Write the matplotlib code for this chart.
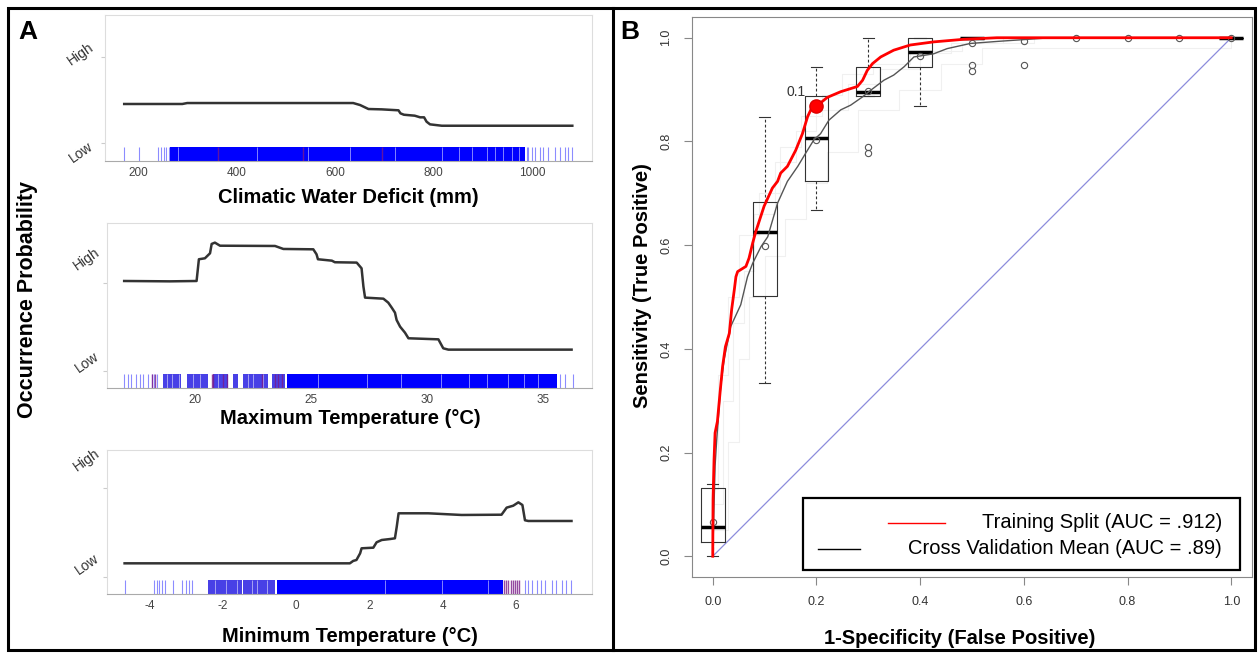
import matplotlib
matplotlib.use("Agg")
import matplotlib.pyplot as plt
from matplotlib.patches import Rectangle
from matplotlib.lines import Line2D

plt.rcParams['font.family'] = ['Liberation Sans', 'DejaVu Sans']
plt.rcParams['axes.unicode_minus'] = False

# ---- panel A : partial dependence curves (0 = Low, 1 = High) ----
cwd_x = [172, 290, 300, 637, 651, 668, 695, 729, 733, 740, 762, 773, 781, 786, 793, 817, 1082]
cwd_y = [0.454, 0.454, 0.465, 0.465, 0.442, 0.396, 0.392, 0.381, 0.346, 0.330, 0.319, 0.300,
         0.300, 0.250, 0.219, 0.203, 0.203]
cwd_ticks = [200, 400, 600, 800, 1000]
cwd_rug_sparse = [172, 203, 241, 246, 252, 256, 262, 990, 993, 1000, 1006, 1017, 1023, 1033,
                  1047, 1057, 1067, 1074, 1082]
cwd_rug_medium = []
cwd_rug_dense = [(265, 986)]
cwd_rug_gaps = [282, 441, 546, 630, 722, 817, 851, 878, 908, 925, 942, 959, 973]
cwd_rug_accent = [363, 536, 695]

tmax_x = [16.95, 18.92, 20.07, 20.17, 20.43, 20.65, 20.72, 20.86, 21.08, 23.45, 23.81, 25.1,
          25.24, 25.3, 25.9, 26.03, 26.97, 27.18, 27.26, 27.33, 28.12, 28.33, 28.48, 28.62,
          28.69, 28.84, 29.05, 29.2, 30.49, 30.7, 30.92, 36.23]
tmax_y = [1.019, 1.015, 1.019, 1.266, 1.277, 1.334, 1.44, 1.455, 1.42, 1.417, 1.383, 1.379,
          1.322, 1.266, 1.25, 1.232, 1.228, 1.163, 0.955, 0.83, 0.818, 0.773, 0.716, 0.659,
          0.576, 0.5, 0.432, 0.368, 0.356, 0.254, 0.239, 0.239]
tmax_ticks = [20, 25, 30, 35]
tmax_rug_sparse = [16.95, 17.12, 17.24, 17.45, 17.63, 17.77, 17.99, 18.13, 18.25, 18.35,
                   35.73, 35.95, 36.31]
tmax_rug_medium = [(18.63, 19.42), (19.64, 20.57), (20.79, 21.44), (21.65, 21.87),
                   (22.08, 23.16), (23.3, 23.88)]
tmax_rug_dense = [(23.95, 35.59)]
tmax_rug_gaps = [18.8, 19.0, 19.3, 19.9, 20.2, 21.0, 21.5, 22.3, 22.5, 22.95, 25.3, 27.4,
                 28.9, 30.6, 31.8, 32.6, 33.5, 34.2, 34.8]
tmax_rug_accent = [18.13, 18.27, 20.72, 20.79, 21.22, 21.36, 22.87, 23.45, 23.6, 23.74]

tmin_x = [-4.68, 1.47, 1.56, 1.65, 1.75, 1.79, 2.11, 2.2, 2.34, 2.57, 2.7, 2.75, 2.8, 3.61,
          4.52, 5.61, 5.75, 5.93, 6.07, 6.18, 6.25, 6.34, 7.52]
tmin_y = [0.151, 0.151, 0.178, 0.189, 0.264, 0.321, 0.328, 0.389, 0.415, 0.426, 0.434, 0.566,
          0.717, 0.717, 0.698, 0.701, 0.781, 0.803, 0.841, 0.811, 0.638, 0.630, 0.630]
tmin_ticks = [-4, -2, 0, 2, 4, 6]
tmin_rug_sparse = [-4.68, -3.87, -3.80, -3.74, -3.67, -3.57, -3.37, -3.10, -3.01, -2.92, -2.85,
                   6.25, 6.34, 6.43, 6.57, 6.70, 6.81, 6.98, 7.11, 7.25, 7.38, 7.52]
tmin_rug_medium = [(-2.41, -1.48), (-1.44, -0.57)]
tmin_rug_dense = [(-0.53, 5.66)]
tmin_rug_gaps = [-2.2, -1.9, -1.6, -1.21, -1.07, -0.8, 2.43, 3.98, 5.25]
tmin_rug_accent = [5.68, 5.74, 5.79, 5.86, 5.92, 5.97, 6.03, 6.08]

# ---- panel B : ROC ----
train_fpr = [0, 0.0006, 0.0025, 0.0045, 0.009, 0.0146, 0.019, 0.0244, 0.032, 0.0365, 0.0416,
             0.0447, 0.048, 0.064, 0.070, 0.077, 0.083, 0.099, 0.115, 0.125, 0.131, 0.144,
             0.16, 0.173, 0.183, 0.192, 0.2, 0.221, 0.247, 0.279, 0.289, 0.298, 0.308, 0.324,
             0.349, 0.381, 0.426, 0.484, 0.548, 1.0]
train_tpr = [0, 0.11, 0.186, 0.238, 0.26, 0.321, 0.366, 0.404, 0.43, 0.476, 0.514, 0.539,
             0.549, 0.559, 0.575, 0.604, 0.626, 0.675, 0.71, 0.723, 0.739, 0.752, 0.783,
             0.815, 0.848, 0.867, 0.868, 0.885, 0.896, 0.906, 0.918, 0.937, 0.95, 0.963,
             0.976, 0.986, 0.992, 0.997, 1.0, 1.0]
cv_fpr = [0, 0.0045, 0.0077, 0.0154, 0.0218, 0.0346, 0.054, 0.067, 0.077, 0.093, 0.106, 0.125,
          0.144, 0.164, 0.179, 0.195, 0.208, 0.224, 0.247, 0.266, 0.289, 0.305, 0.33, 0.349,
          0.369, 0.388, 0.426, 0.452, 0.497, 0.55, 0.652, 1.0]
cv_tpr = [0, 0.174, 0.225, 0.328, 0.379, 0.443, 0.485, 0.539, 0.565, 0.597, 0.616, 0.681,
          0.723, 0.752, 0.777, 0.803, 0.815, 0.841, 0.861, 0.87, 0.886, 0.899, 0.918, 0.928,
          0.944, 0.963, 0.969, 0.979, 0.989, 0.993, 1.0, 1.0]

# faint individual cross-validation runs
run_x = [[0.0, 0.02, 0.04, 0.06, 0.08, 0.12, 0.16, 0.2, 0.26, 0.32, 0.4, 0.46, 0.56, 1.0],
         [0.0, 0.03, 0.05, 0.07, 0.1, 0.14, 0.18, 0.22, 0.28, 0.36, 0.44, 0.52, 1.0],
         [0.0, 0.01, 0.03, 0.05, 0.09, 0.13, 0.17, 0.21, 0.25, 0.31, 0.38, 0.48, 0.62, 1.0]]
run_y = [[0.10, 0.30, 0.45, 0.55, 0.66, 0.76, 0.82, 0.86, 0.91, 0.94, 0.97, 0.99, 1.0, 1.0],
         [0.05, 0.22, 0.38, 0.50, 0.58, 0.65, 0.72, 0.78, 0.86, 0.90, 0.95, 0.98, 1.0],
         [0.13, 0.35, 0.50, 0.62, 0.70, 0.79, 0.85, 0.89, 0.93, 0.95, 0.975, 0.99, 1.0, 1.0]]

box_x = [0.0, 0.1, 0.2, 0.3, 0.4, 0.5, 1.0]
box_lo = [0.0, 0.334, 0.668, 0.888, 0.868, 0.998, 1.0]
box_q1 = [0.027, 0.501, 0.723, 0.888, 0.944, 0.998, 1.0]
box_med = [0.056, 0.626, 0.806, 0.895, 0.973, 1.0, 1.0]
box_q3 = [0.132, 0.683, 0.888, 0.944, 1.0, 1.0, 1.0]
box_hi = [0.139, 0.847, 0.944, 1.0, 1.0, 1.0, 1.0]

pt_x = [0.0, 0.1, 0.2, 0.3, 0.4, 0.5, 0.6, 0.7, 0.8, 0.9, 1.0]
pt_y = [0.066, 0.599, 0.803, 0.897, 0.964, 0.989, 0.993, 1.0, 1.0, 1.0, 1.0]
out_x = [0.3, 0.3, 0.5, 0.5, 0.6]
out_y = [0.79, 0.777, 0.947, 0.936, 0.947]

thr_fpr, thr_tpr, thr_label = 0.2, 0.868, '0.1'
roc_ticks = [0.0, 0.2, 0.4, 0.6, 0.8, 1.0]

W, H = 1260, 655
fig = plt.figure(figsize=(W / 100, H / 100), dpi=100)


def rect(l, t, r, b):
    return [l / W, 1 - b / H, (r - l) / W, (b - t) / H]


def ftext(x, y, s, **kw):
    fig.text(x / W, 1 - y / H, s, **kw)


def pdp(box, xs, ys, xlim, ylim, ticks, sparse, medium, dense, gaps, accent):
    ax = fig.add_axes(rect(*box))
    ax.set_xlim(xlim)
    ax.set_ylim(ylim)
    bot, top = ylim[0], -0.04
    for a, b in dense:
        ax.fill_between([a, b], bot, top, color='#0000ff', lw=0)
    for a, b in medium:
        ax.fill_between([a, b], bot, top, color='#1a10e0', alpha=0.8, lw=0)
    ax.vlines(gaps, bot, top, color='white', lw=0.6, alpha=0.6)
    ax.vlines(sparse, bot, top, color='#0000ff', lw=0.8, alpha=0.45)
    ax.vlines(accent, bot, top, color='#7a1a8a', lw=1.0, alpha=0.8)
    ax.plot(xs, ys, color='#333333', lw=1.8, solid_joinstyle='round')
    for s in ('top', 'right', 'left'):
        ax.spines[s].set_color('#dddddd')
    ax.spines['bottom'].set_color('#aaaaaa')
    ax.set_xticks(ticks)
    ax.tick_params(axis='x', length=0, pad=4, labelsize=8.5, labelcolor='#444444')
    ax.set_yticks([0, 1])
    ax.set_yticklabels([])
    ax.tick_params(axis='y', length=3, color='#cccccc')
    return ax


pdp((105, 15, 592, 161), cwd_x, cwd_y, (133, 1122), (-0.204, 1.481), cwd_ticks,
    cwd_rug_sparse, cwd_rug_medium, cwd_rug_dense, cwd_rug_gaps, cwd_rug_accent)
pdp((107, 223, 592, 388), tmax_x, tmax_y, (16.21, 37.11), (-0.197, 1.678), tmax_ticks,
    tmax_rug_sparse, tmax_rug_medium, tmax_rug_dense, tmax_rug_gaps, tmax_rug_accent)
pdp((107, 450, 592, 594), tmin_x, tmin_y, (-5.16, 8.08), (-0.196, 1.433), tmin_ticks,
    tmin_rug_sparse, tmin_rug_medium, tmin_rug_dense, tmin_rug_gaps, tmin_rug_accent)

lab = dict(fontsize=14.5, fontweight='bold', ha='center', va='center')
ftext(348, 197, 'Climatic Water Deficit (mm)', **lab)
ftext(350, 418, 'Maximum Temperature (°C)', **lab)
ftext(350, 636, 'Minimum Temperature (°C)', **lab)
ftext(28, 300, 'Occurrence Probability', rotation=90, fontsize=15.5, fontweight='bold',
      ha='center', va='center')
hl = dict(fontsize=10, color='#333333', rotation=35, ha='center', va='center')
for yh, yl, xc in ((54, 152, 81), (259, 362, 87), (460, 564, 87)):
    ftext(xc, yh, 'High', **hl)
    ftext(xc, yl, 'Low', **hl)
ftext(28, 32, 'A', fontsize=19, fontweight='bold', ha='center', va='center')
ftext(630, 32, 'B', fontsize=19, fontweight='bold', ha='center', va='center')

# ---- ROC panel ----
ax = fig.add_axes(rect(692, 17, 1252, 577))
ax.set_xlim(-0.04, 1.04)
ax.set_ylim(-0.04, 1.04)
for xs, ys in zip(run_x, run_y):
    ax.step(xs, ys, where='post', color='#f0f0f0', lw=0.8, zorder=1)
ax.plot([0, 1], [0, 1], color='#8c8cdc', lw=0.9, zorder=2)
stats = [dict(med=m, q1=a, q3=b, whislo=lo, whishi=hi, fliers=[])
         for m, a, b, lo, hi in zip(box_med, box_q1, box_q3, box_lo, box_hi)]
ax.bxp(stats, positions=box_x, widths=0.046, capwidths=0.022, showfliers=False,
       manage_ticks=False, zorder=3,
       boxprops=dict(color='#333333', lw=0.8),
       medianprops=dict(color='black', lw=2.5),
       whiskerprops=dict(color='#333333', lw=0.8, linestyle=(0, (2.5, 2))),
       capprops=dict(color='#333333', lw=0.8))
ax.plot(cv_fpr, cv_tpr, color='#555555', lw=1.0, zorder=4)
ax.plot(pt_x, pt_y, 'o', mfc='none', mec='#555555', ms=4.5, mew=0.8, zorder=4.5)
ax.plot(out_x, out_y, 'o', mfc='none', mec='#555555', ms=4.5, mew=0.8, zorder=4.5)
ax.plot(train_fpr, train_tpr, color='#ff0000', lw=2.0, zorder=5)
ax.plot([thr_fpr], [thr_tpr], 'o', color='#ff0000', mec='#dd0000', ms=9.5, zorder=6)
ax.text(thr_fpr - 0.04, thr_tpr + 0.027, thr_label, fontsize=10, color='#333333',
        ha='center', va='center', zorder=6)
for s in ax.spines.values():
    s.set_color('#888888')
ax.set_xticks(roc_ticks)
ax.set_yticks(roc_ticks)
ax.set_xticklabels([f'{t:.1f}' for t in roc_ticks])
ax.set_yticklabels([f'{t:.1f}' for t in roc_ticks])
ax.tick_params(length=6, width=0.8, color='#888888', labelsize=9, labelcolor='#333333', pad=8)
ax.tick_params(axis='y', labelrotation=90)
for t in ax.get_yticklabels():
    t.set_va('center')
ftext(960, 638, '1-Specificity (False Positive)', **lab)
ftext(642, 286, 'Sensitivity (True Positive)', rotation=90, fontsize=14.5,
      fontweight='bold', ha='center', va='center')

# legend drawn by hand to mimic the right-aligned R legend
fig.add_artist(Rectangle((803 / W, 1 - 570 / H), (1240 - 803) / W, (570 - 498) / H,
                         transform=fig.transFigure, facecolor='white', edgecolor='black',
                         lw=1.6, zorder=10))
fig.add_artist(Line2D([888 / W, 945 / W], [1 - 523 / H] * 2, color='#ff0000', lw=1.0,
                      zorder=11))
fig.add_artist(Line2D([818 / W, 860 / W], [1 - 549 / H] * 2, color='black', lw=1.0,
                      zorder=11))
ftext(1222, 523, 'Training Split (AUC = .912)', fontsize=14.5, ha='right', va='center',
      zorder=11)
ftext(1222, 549, 'Cross Validation Mean (AUC = .89)', fontsize=14.5, ha='right', va='center',
      zorder=11)

# outer border and divider
fig.add_artist(Rectangle((8 / W, 1 - 650 / H), (1255 - 8) / W, (650 - 8) / H,
                         transform=fig.transFigure, fill=False, edgecolor='black', lw=2.2,
                         zorder=12))
fig.add_artist(Line2D([613 / W] * 2, [1 - 8 / H, 1 - 650 / H], color='black', lw=2.2,
                      zorder=12))

fig.savefig('out.png', dpi=100)
